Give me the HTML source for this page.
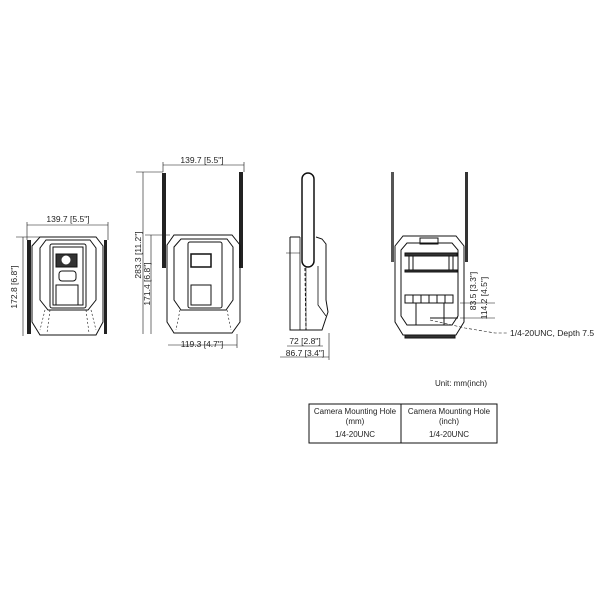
<!DOCTYPE html>
<html><head><meta charset="utf-8"><style>
html,body{margin:0;padding:0;background:#fff}
svg{display:block}
text{font-family:"Liberation Sans",sans-serif;fill:#222}
</style></head><body>
<svg width="600" height="600" viewBox="0 0 600 600" xmlns="http://www.w3.org/2000/svg">
<g fill="none" stroke="#111" stroke-width="1">
<!-- VIEW 1 -->
<line x1="27" y1="225" x2="108" y2="225" stroke-width="0.6"/>
<line x1="27" y1="222" x2="27" y2="240" stroke-width="0.6"/>
<line x1="108" y1="222" x2="108" y2="240" stroke-width="0.6"/>
<line x1="16" y1="237" x2="40" y2="237" stroke-width="0.6"/>
<line x1="23" y1="237" x2="23" y2="336" stroke-width="0.6"/>
<rect x="27" y="240" width="4" height="94" fill="#222" stroke="none"/>
<rect x="104" y="240" width="3" height="94" fill="#222" stroke="none"/>
<path d="M40 237 L96 237 L103 246 L103 322 L96 335 L40 335 L32 322 L32 246 Z"/>
<path d="M46 240 L90 240 L96 248 L96 300 L88 310 L48 310 L40 300 L40 248 Z"/>
<rect x="50" y="244" width="36" height="64" rx="2"/>
<rect x="53" y="247" width="30" height="58"/>
<rect x="56" y="254" width="21" height="13" fill="#333"/>
<circle cx="66" cy="260" r="4" fill="#fff" stroke="#fff"/>
<rect x="59" y="271" width="17" height="10" rx="3"/>
<rect x="56" y="285" width="22" height="20"/>
<path d="M45 310 L40 330 M91 310 L96 330 M50 310 L47 333 M86 310 L89 333" stroke-dasharray="2,2" stroke-width="0.6"/>
<!-- VIEW 2 -->
<line x1="163" y1="165" x2="244" y2="165" stroke-width="0.6"/>
<line x1="163" y1="162" x2="163" y2="172" stroke-width="0.6"/>
<line x1="244" y1="162" x2="244" y2="172" stroke-width="0.6"/>
<line x1="143" y1="172" x2="143" y2="334" stroke-width="0.6"/>
<line x1="151" y1="235" x2="151" y2="334" stroke-width="0.6"/>
<line x1="136" y1="172" x2="163" y2="172" stroke-width="0.6"/>
<line x1="145" y1="235" x2="170" y2="235" stroke-width="0.6"/>
<line x1="168" y1="345" x2="237" y2="345" stroke-width="0.6"/>
<line x1="237" y1="334" x2="237" y2="348" stroke-width="0.6"/>
<rect x="162" y="173" width="4" height="95" fill="#222" stroke="none"/>
<rect x="239" y="172" width="4" height="96" fill="#222" stroke="none"/>
<path d="M174 235 L232 235 L240 245 L240 322 L232 333 L174 333 L167 322 L167 245 Z"/>
<path d="M181 239 L227 239 L233 247 L233 300 L226 310 L181 310 L174 300 L174 247 Z"/>
<rect x="188" y="242" width="34" height="66" rx="2"/>
<rect x="191" y="254" width="20" height="13" stroke-width="1.5"/>
<rect x="191" y="285" width="20" height="20"/>
<path d="M180 310 L176 330 M227 310 L231 330" stroke-dasharray="2,2" stroke-width="0.6"/>
<!-- VIEW 3 -->
<rect x="302" y="173" width="12" height="94" rx="6" stroke-width="1.5"/>
<path d="M290 237 L300 237 M316 237 L322 239 L326 244 L326 300 L328 312 L322 330 L290 330 L290 237"/>
<path d="M300 237 L300 330 M318 266 L318 305 L326 316" stroke-width="0.8"/>
<path d="M286 253 L300 253 M306 266 L306 330" stroke-width="0.6"/>
<path d="M305 268 L306 330" stroke-dasharray="3,2"/>
<line x1="287" y1="346" x2="323" y2="346" stroke-width="0.6"/>
<line x1="280" y1="357" x2="329" y2="357" stroke-width="0.6"/>
<line x1="329" y1="333" x2="329" y2="360" stroke-width="0.6"/>
<!-- VIEW 4 -->
<rect x="391" y="172" width="3" height="90" fill="#555" stroke="none"/>
<rect x="465" y="172" width="3" height="90" fill="#333" stroke="none"/>
<path d="M403 236 L456 236 L464 246 L464 322 L456 335 L403 335 L395 322 L395 246 Z"/>
<path d="M407 243 L452 243 L458 250 L458 316 L452 325 L407 325 L401 316 L401 250 Z"/>
<rect x="420" y="238" width="18" height="6"/>
<rect x="405" y="253" width="52" height="3" fill="#333"/>
<rect x="405" y="270" width="52" height="2" fill="#333"/>
<path d="M409 256 L409 270 M413 256 L413 270 M449 256 L449 270 M453 256 L453 270"/>
<rect x="405" y="295" width="48" height="8"/>
<path d="M413 295 v8 M421 295 v8 M429 295 v8 M437 295 v8 M445 295 v8"/>
<path d="M416 303 V325 M444 303 V325 M430 318 H458"/>
<path d="M405 335 L455 335 L455 338 L405 338 Z" fill="#333"/>
<path d="M430 320 L465 328 L495 333 L508 333" stroke-dasharray="3,2" stroke-width="0.6"/>
<line x1="460" y1="303" x2="495" y2="303" stroke-width="0.6"/>
<line x1="460" y1="318" x2="495" y2="318" stroke-width="0.6"/>
<!-- table -->
<rect x="309" y="404" width="188" height="39"/>
<line x1="401" y1="404" x2="401" y2="443"/>
</g>
<g font-size="8.5">
<text x="68" y="222" text-anchor="middle">139.7 [5.5"]</text>
<text transform="translate(17,287) rotate(-90)" text-anchor="middle">172.8 [6.8"]</text>
<text x="202" y="163" text-anchor="middle">139.7 [5.5"]</text>
<text transform="translate(141,255) rotate(-90)" text-anchor="middle">283.3 [11.2"]</text>
<text transform="translate(150,284) rotate(-90)" text-anchor="middle">171.4 [6.8"]</text>
<text x="202" y="347" text-anchor="middle">119.3 [4.7"]</text>
<text x="305" y="344" text-anchor="middle">72 [2.8"]</text>
<text x="305" y="356" text-anchor="middle">86.7 [3.4"]</text>
<text transform="translate(476,291) rotate(-90)" text-anchor="middle">83.5 [3.3"]</text>
<text transform="translate(487,298) rotate(-90)" text-anchor="middle">114.2 [4.5"]</text>
<text x="510" y="336">1/4-20UNC,  Depth 7.5</text>
<text x="435" y="386" font-size="8">Unit: mm(inch)</text>
</g>
<g font-size="8" text-anchor="middle">
<text x="355" y="414">Camera Mounting Hole</text>
<text x="355" y="424">(mm)</text>
<text x="355" y="437">1/4-20UNC</text>
<text x="449" y="414">Camera Mounting Hole</text>
<text x="449" y="424">(inch)</text>
<text x="449" y="437">1/4-20UNC</text>
</g>
</svg>
</body></html>
